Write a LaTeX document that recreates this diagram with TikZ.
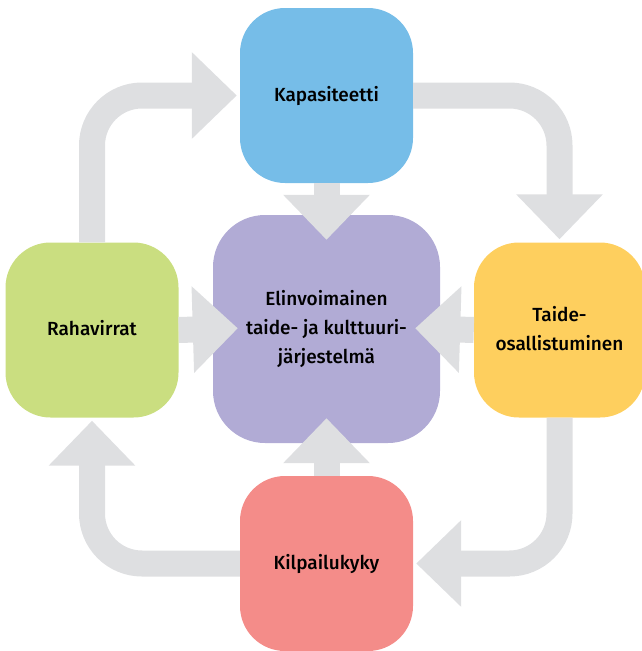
\documentclass[tikz,border=0pt]{standalone}
\usepackage{fontspec}
\setmainfont{Fira Sans Medium}
\usetikzlibrary{arrows.meta}
\definecolor{cblue}{HTML}{76BDE8}
\definecolor{cpurple}{HTML}{B1ABD5}
\definecolor{cgreen}{HTML}{CADE80}
\definecolor{cyellow}{HTML}{FECF5E}
\definecolor{cred}{HTML}{F48C89}
\definecolor{cgrey}{HTML}{DEDFE1}
\tikzset{
  box/.style={rectangle, rounded corners=45pt, inner sep=0pt, minimum width=173pt, minimum height=175pt, align=center, font=\fontsize{19}{29}\selectfont, text=black},
  flow/.style={draw=cgrey, line width=26pt, -{Triangle[width=84pt,length=45pt]}},
  inflow/.style={flow, shorten >=-25pt},
  loopflow/.style={flow, rounded corners=50pt, shorten >=3pt},
}
\begin{document}
\begin{tikzpicture}[x=1pt,y=-1pt]
\useasboundingbox (0,0) rectangle (642,651);
\clip (0,0) rectangle (642,651);
\node[box, fill=cblue] (kap) at (326.5,95.5) {Kapasiteetti};
\node[box, fill=cgreen] (ram) at (92,330) {\raisebox{5pt}{Rahavirrat}};
\node[box, fill=cyellow, minimum width=171pt] (tai) at (559.5,330) {\raisebox{11pt}{\begin{tabular}{@{}c@{}}Taide-\\osallistuminen\end{tabular}}};
\node[box, fill=cred] (kil) at (326.5,563.5) {Kilpailukyky};
\node[box, fill=cpurple, minimum width=227pt, minimum height=228pt, rounded corners=52pt] (cen) at (326.5,329) {Elinvoimainen\\taide- ja kulttuuri-\\järjestelmä};
\draw[inflow] (kap.south) -- (cen.north);
\draw[inflow] (ram.east) -- (cen.west);
\draw[inflow] (tai.west) -- (cen.east);
\draw[inflow] (kil.north) -- (cen.south);
\draw[loopflow] (ram.north) |- (kap.west);
\draw[loopflow] (kap.east) -| (tai.north);
\draw[loopflow] (tai.south) |- (kil.east);
\draw[loopflow] (kil.west) -| (ram.south);
\end{tikzpicture}
\end{document}
